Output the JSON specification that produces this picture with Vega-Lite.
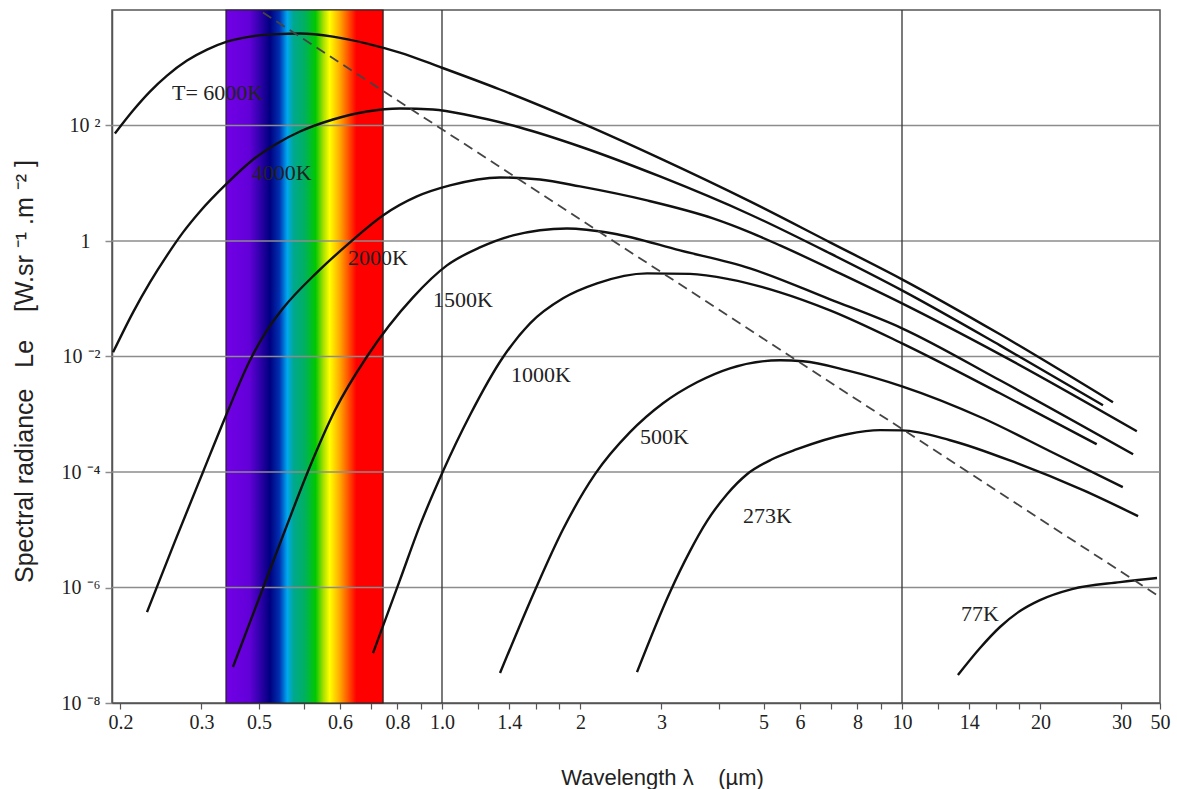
{
  "$schema": "https://vega.github.io/schema/vega-lite/v6.json",
  "autosize": {"type": "none"},
  "padding": {"left": 112, "top": 10, "right": 17, "bottom": 86},
  "width": 1048,
  "height": 693,
  "background": "white",
  "config": {"view": {"stroke": "#555", "strokeWidth": 1.5}},
  "datasets": {
    "band": [{"lambda": 0.3392, "lambda2": 0.7446}],
    "vlines": [{"lambda": 1}, {"lambda": 10}],
    "hlines": [{"L": 100}, {"L": 1}, {"L": 0.01}, {"L": 0.0001}, {"L": 1e-6}],
    "wien": [{"lambda": 0.408, "L": 9016}, {"lambda": 36.4, "L": 6.8e-7}],
    "labels": [
      {"text": "T= 6000K", "lambda": 0.2588, "L": 372},
      {"text": "4000K", "lambda": 0.386, "L": 14.8},
      {"text": "2000K", "lambda": 0.6245, "L": 0.5},
      {"text": "1500K", "lambda": 0.956, "L": 0.0938},
      {"text": "1000K", "lambda": 1.413, "L": 0.00473},
      {"text": "500K", "lambda": 2.694, "L": 0.0004},
      {"text": "273K", "lambda": 4.511, "L": 1.72e-5},
      {"text": "77K", "lambda": 13.44, "L": 3.47e-7}
    ],
    "curves": [
      {"T": "6000K", "lambda": 0.1945, "L": 72.8},
      {"T": "6000K", "lambda": 0.213, "L": 182},
      {"T": "6000K", "lambda": 0.2318, "L": 387},
      {"T": "6000K", "lambda": 0.2525, "L": 733},
      {"T": "6000K", "lambda": 0.2791, "L": 1334},
      {"T": "6000K", "lambda": 0.3085, "L": 2065},
      {"T": "6000K", "lambda": 0.3408, "L": 2838},
      {"T": "6000K", "lambda": 0.3825, "L": 3467},
      {"T": "6000K", "lambda": 0.4379, "L": 3828},
      {"T": "6000K", "lambda": 0.4913, "L": 3908},
      {"T": "6000K", "lambda": 0.5795, "L": 3467},
      {"T": "6000K", "lambda": 0.687, "L": 2624},
      {"T": "6000K", "lambda": 0.81, "L": 1832},
      {"T": "6000K", "lambda": 1.0, "L": 1000},
      {"T": "6000K", "lambda": 1.337, "L": 420},
      {"T": "6000K", "lambda": 1.995, "L": 113},
      {"T": "6000K", "lambda": 2.978, "L": 26.9},
      {"T": "6000K", "lambda": 4.673, "L": 4.84},
      {"T": "6000K", "lambda": 6.975, "L": 0.946},
      {"T": "6000K", "lambda": 10, "L": 0.217},
      {"T": "6000K", "lambda": 16.33, "L": 0.0242},
      {"T": "6000K", "lambda": 28.75, "L": 0.00161},

      {"T": "4000K", "lambda": 0.1927, "L": 0.0118},
      {"T": "4000K", "lambda": 0.213, "L": 0.0582},
      {"T": "4000K", "lambda": 0.2318, "L": 0.192},
      {"T": "4000K", "lambda": 0.2525, "L": 0.564},
      {"T": "4000K", "lambda": 0.2735, "L": 1.41},
      {"T": "4000K", "lambda": 0.2978, "L": 3.25},
      {"T": "4000K", "lambda": 0.3408, "L": 9.93},
      {"T": "4000K", "lambda": 0.3863, "L": 24.8},
      {"T": "4000K", "lambda": 0.4379, "L": 48.9},
      {"T": "4000K", "lambda": 0.4913, "L": 78.7},
      {"T": "4000K", "lambda": 0.5795, "L": 127},
      {"T": "4000K", "lambda": 0.687, "L": 175},
      {"T": "4000K", "lambda": 0.81, "L": 197},
      {"T": "4000K", "lambda": 0.956, "L": 189},
      {"T": "4000K", "lambda": 1.15, "L": 149},
      {"T": "4000K", "lambda": 1.478, "L": 92.3},
      {"T": "4000K", "lambda": 1.995, "L": 43.3},
      {"T": "4000K", "lambda": 2.978, "L": 13.1},
      {"T": "4000K", "lambda": 4.673, "L": 2.88},
      {"T": "4000K", "lambda": 6.975, "L": 0.609},
      {"T": "4000K", "lambda": 10, "L": 0.1396},
      {"T": "4000K", "lambda": 16.33, "L": 0.0156},
      {"T": "4000K", "lambda": 27.35, "L": 0.00143},

      {"T": "2000K", "lambda": 0.2284, "L": 3.75e-7},
      {"T": "2000K", "lambda": 0.2628, "L": 6.35e-6},
      {"T": "2000K", "lambda": 0.3022, "L": 9.93e-5},
      {"T": "2000K", "lambda": 0.3408, "L": 0.00104},
      {"T": "2000K", "lambda": 0.3825, "L": 0.00859},
      {"T": "2000K", "lambda": 0.4124, "L": 0.0252},
      {"T": "2000K", "lambda": 0.4512, "L": 0.0682},
      {"T": "2000K", "lambda": 0.535, "L": 0.286},
      {"T": "2000K", "lambda": 0.631, "L": 0.946},
      {"T": "2000K", "lambda": 0.744, "L": 2.77},
      {"T": "2000K", "lambda": 0.882, "L": 5.91},
      {"T": "2000K", "lambda": 1.041, "L": 9.17},
      {"T": "2000K", "lambda": 1.337, "L": 12.6},
      {"T": "2000K", "lambda": 1.633, "L": 11.6},
      {"T": "2000K", "lambda": 1.995, "L": 8.81},
      {"T": "2000K", "lambda": 2.791, "L": 5.04},
      {"T": "2000K", "lambda": 3.883, "L": 2.46},
      {"T": "2000K", "lambda": 4.673, "L": 1.41},
      {"T": "2000K", "lambda": 5.43, "L": 0.839},
      {"T": "2000K", "lambda": 7.33, "L": 0.275},
      {"T": "2000K", "lambda": 10, "L": 0.0832},
      {"T": "2000K", "lambda": 16.33, "L": 0.0109},
      {"T": "2000K", "lambda": 32.4, "L": 0.000508},

      {"T": "1500K", "lambda": 0.3512, "L": 4.2e-8},
      {"T": "1500K", "lambda": 0.4082, "L": 9.8e-7},
      {"T": "1500K", "lambda": 0.4558, "L": 9.8e-6},
      {"T": "1500K", "lambda": 0.5114, "L": 0.000103},
      {"T": "1500K", "lambda": 0.5853, "L": 0.00117},
      {"T": "1500K", "lambda": 0.687, "L": 0.01},
      {"T": "1500K", "lambda": 0.865, "L": 0.1057},
      {"T": "1500K", "lambda": 1.025, "L": 0.378},
      {"T": "1500K", "lambda": 1.209, "L": 0.774},
      {"T": "1500K", "lambda": 1.427, "L": 1.25},
      {"T": "1500K", "lambda": 1.869, "L": 1.65},
      {"T": "1500K", "lambda": 2.354, "L": 1.35},
      {"T": "1500K", "lambda": 3.292, "L": 0.687},
      {"T": "1500K", "lambda": 4.673, "L": 0.336},
      {"T": "1500K", "lambda": 6.975, "L": 0.0977},
      {"T": "1500K", "lambda": 10, "L": 0.0308},
      {"T": "1500K", "lambda": 16.33, "L": 0.00387},
      {"T": "1500K", "lambda": 31.8, "L": 0.000203},

      {"T": "1000K", "lambda": 0.708, "L": 7.3e-8},
      {"T": "1000K", "lambda": 0.81, "L": 1.34e-6},
      {"T": "1000K", "lambda": 0.896, "L": 1.2e-5},
      {"T": "1000K", "lambda": 1.005, "L": 0.000103},
      {"T": "1000K", "lambda": 1.15, "L": 0.00096},
      {"T": "1000K", "lambda": 1.357, "L": 0.0097},
      {"T": "1000K", "lambda": 1.554, "L": 0.0375},
      {"T": "1000K", "lambda": 1.833, "L": 0.1017},
      {"T": "1000K", "lambda": 2.173, "L": 0.1845},
      {"T": "1000K", "lambda": 2.791, "L": 0.275},
      {"T": "1000K", "lambda": 3.46, "L": 0.27},
      {"T": "1000K", "lambda": 4.227, "L": 0.217},
      {"T": "1000K", "lambda": 5.43, "L": 0.129},
      {"T": "1000K", "lambda": 6.975, "L": 0.0629},
      {"T": "1000K", "lambda": 10, "L": 0.0169},
      {"T": "1000K", "lambda": 16.33, "L": 0.00231},
      {"T": "1000K", "lambda": 26.5, "L": 0.000303},

      {"T": "500K", "lambda": 1.337, "L": 3.3e-8},
      {"T": "500K", "lambda": 1.593, "L": 9.0e-7},
      {"T": "500K", "lambda": 1.833, "L": 1.02e-5},
      {"T": "500K", "lambda": 2.151, "L": 9.16e-5},
      {"T": "500K", "lambda": 2.563, "L": 0.000489},
      {"T": "500K", "lambda": 3.023, "L": 0.00155},
      {"T": "500K", "lambda": 3.584, "L": 0.00358},
      {"T": "500K", "lambda": 4.227, "L": 0.00625},
      {"T": "500K", "lambda": 5.43, "L": 0.00859},
      {"T": "500K", "lambda": 6.094, "L": 0.00826},
      {"T": "500K", "lambda": 7.59, "L": 0.00577},
      {"T": "500K", "lambda": 10, "L": 0.00305},
      {"T": "500K", "lambda": 15.0, "L": 0.000853},
      {"T": "500K", "lambda": 20.98, "L": 0.000229},
      {"T": "500K", "lambda": 30.2, "L": 5.46e-5},

      {"T": "273K", "lambda": 2.654, "L": 3.43e-8},
      {"T": "273K", "lambda": 3.13, "L": 8.31e-7},
      {"T": "273K", "lambda": 3.46, "L": 4.27e-6},
      {"T": "273K", "lambda": 3.768, "L": 1.41e-5},
      {"T": "273K", "lambda": 4.165, "L": 4.13e-5},
      {"T": "273K", "lambda": 4.603, "L": 9.16e-5},
      {"T": "273K", "lambda": 5.217, "L": 0.000166},
      {"T": "273K", "lambda": 5.912, "L": 0.000248},
      {"T": "273K", "lambda": 7.59, "L": 0.000451},
      {"T": "273K", "lambda": 8.96, "L": 0.00053},
      {"T": "273K", "lambda": 10, "L": 0.000525},
      {"T": "273K", "lambda": 12.72, "L": 0.000355},
      {"T": "273K", "lambda": 17.78, "L": 0.000142},
      {"T": "273K", "lambda": 24.75, "L": 4.84e-5},
      {"T": "273K", "lambda": 32.6, "L": 1.72e-5},

      {"T": "77K", "lambda": 13.23, "L": 3.05e-8},
      {"T": "77K", "lambda": 14.78, "L": 8.96e-8},
      {"T": "77K", "lambda": 16.33, "L": 2.07e-7},
      {"T": "77K", "lambda": 18.05, "L": 3.91e-7},
      {"T": "77K", "lambda": 19.95, "L": 6.05e-7},
      {"T": "77K", "lambda": 23.42, "L": 9.38e-7},
      {"T": "77K", "lambda": 29.78, "L": 1.24e-6},
      {"T": "77K", "lambda": 35.84, "L": 1.46e-6}
    ]
  },
  "encoding": {
    "x": {
      "field": "lambda",
      "type": "quantitative",
      "scale": {"type": "log", "domain": [0.1917, 36.38], "nice": false},
      "axis": {
        "title": "Wavelength λ\u00a0\u00a0\u00a0\u00a0(µm)",
        "values": [0.2, 0.3, 0.4, 0.5, 0.6, 0.7, 0.8, 0.9, 1, 1.2, 1.4, 1.6, 1.8, 2, 3, 4, 5, 6, 7, 8, 9, 10, 12, 14, 16, 18, 20, 30, 36.38],
        "labelExpr": "datum.value<0.25?'0.2':datum.value<0.35?'0.3':datum.value<0.45?'0.5':datum.value<0.55?'':datum.value<0.65?'0.6':datum.value<0.75?'':datum.value<0.85?'0.8':datum.value<0.95?'':datum.value<1.1?'1.0':datum.value<1.3?'':datum.value<1.5?'1.4':datum.value<1.9?'':datum.value<2.5?'2':datum.value<3.5?'3':datum.value<4.5?'':datum.value<5.5?'5':datum.value<6.5?'6':datum.value<7.5?'':datum.value<8.5?'8':datum.value<9.5?'':datum.value<11?'10':datum.value<13?'':datum.value<15?'14':datum.value<19?'':datum.value<25?'20':datum.value<33?'30':'50'",
        "grid": false,
        "domainColor": "#555",
        "domainWidth": 1.5,
        "tickColor": "#555",
        "tickWidth": 1.2,
        "tickSize": 6,
        "labelFont": "Liberation Serif",
        "labelFontSize": 20,
        "labelColor": "#222",
        "labelPadding": 3,
        "labelFlush": false,
        "labelOverlap": false,
        "labelBound": false,
        "titleFont": "Liberation Sans",
        "titleFontSize": 22,
        "titleFontWeight": "normal",
        "titleColor": "#222",
        "titleX": 550,
        "titleY": 81,
        "titleBaseline": "alphabetic"
      }
    }
  },
  "layer": [
    {
      "data": {"name": "band"},
      "mark": {
        "type": "rect",
        "stroke": "#222",
        "strokeWidth": 1.2,
        "fill": {
          "gradient": "linear",
          "x1": 0, "y1": 0, "x2": 1, "y2": 0,
          "stops": [
            {"offset": 0.0, "color": "#7200e6"},
            {"offset": 0.15, "color": "#6200d8"},
            {"offset": 0.28, "color": "#00007f"},
            {"offset": 0.34, "color": "#0030b0"},
            {"offset": 0.39, "color": "#00a8f0"},
            {"offset": 0.43, "color": "#00a890"},
            {"offset": 0.5, "color": "#00b060"},
            {"offset": 0.57, "color": "#00c800"},
            {"offset": 0.62, "color": "#a8e000"},
            {"offset": 0.66, "color": "#ffff00"},
            {"offset": 0.72, "color": "#ffb000"},
            {"offset": 0.78, "color": "#ff5000"},
            {"offset": 0.83, "color": "#ff0000"},
            {"offset": 1.0, "color": "#ff0000"}
          ]
        }
      },
      "encoding": {
        "x2": {"field": "lambda2"}
      }
    },
    {
      "data": {"name": "hlines"},
      "mark": {"type": "rule", "color": "#8c8c8c", "strokeWidth": 1.5},
      "encoding": {
        "x": null,
        "y": {"field": "L", "type": "quantitative", "scale": {"type": "log", "domain": [1e-8, 10000], "nice": false}}
      }
    },
    {
      "data": {"name": "vlines"},
      "mark": {"type": "rule", "color": "#333", "strokeWidth": 1.3},
      "encoding": {}
    },
    {
      "data": {"name": "curves"},
      "mark": {"type": "line", "color": "#111", "strokeWidth": 2.4, "interpolate": "monotone"},
      "encoding": {
        "detail": {"field": "T"},
        "y": {
          "field": "L",
          "type": "quantitative",
          "scale": {"type": "log", "domain": [1e-8, 10000], "nice": false},
          "axis": {
            "title": "Spectral radiance\u00a0\u00a0\u00a0Le\u00a0\u00a0\u00a0\u00a0[W.sr\u00a0⁻¹\u00a0.m\u00a0⁻²\u00a0]",
            "values": [1e-8, 1e-6, 0.0001, 0.01, 1, 100],
            "labelExpr": "datum.value>50?'10\u00a0²':datum.value>0.5?'1':datum.value>0.005?'10\u00a0⁻²':datum.value>0.00005?'10\u00a0⁻⁴':datum.value>5e-7?'10\u00a0⁻⁶':'10\u00a0⁻⁸'",
            "labelPadding": {"condition": {"test": "datum.value > 0.5 && datum.value < 2", "value": 15}, "value": 5},
            "grid": false,
            "domainColor": "#555",
            "domainWidth": 1.5,
            "tickColor": "#8c8c8c",
            "tickWidth": 1.5,
            "tickSize": 7,
            "labelFont": "Liberation Serif",
            "labelFontSize": 20,
            "labelColor": "#222",
            "titleFont": "Liberation Sans",
            "titleFontSize": 25,
            "titleFontWeight": "normal",
            "titleColor": "#222",
            "titleX": -88,
            "titleY": 361,
            "titleAngle": -90,
            "titleBaseline": "middle"
          }
        }
      }
    },
    {
      "data": {"name": "wien"},
      "mark": {"type": "line", "color": "#444", "strokeWidth": 1.8, "strokeDash": [10, 6]},
      "encoding": {
        "y": {"field": "L", "type": "quantitative", "scale": {"type": "log", "domain": [1e-8, 10000], "nice": false}}
      }
    },
    {
      "data": {"name": "labels"},
      "mark": {"type": "text", "align": "left", "baseline": "middle", "font": "Liberation Serif", "fontSize": 22, "color": "#222"},
      "encoding": {
        "text": {"field": "text"},
        "y": {"field": "L", "type": "quantitative", "scale": {"type": "log", "domain": [1e-8, 10000], "nice": false}}
      }
    }
  ]
}
